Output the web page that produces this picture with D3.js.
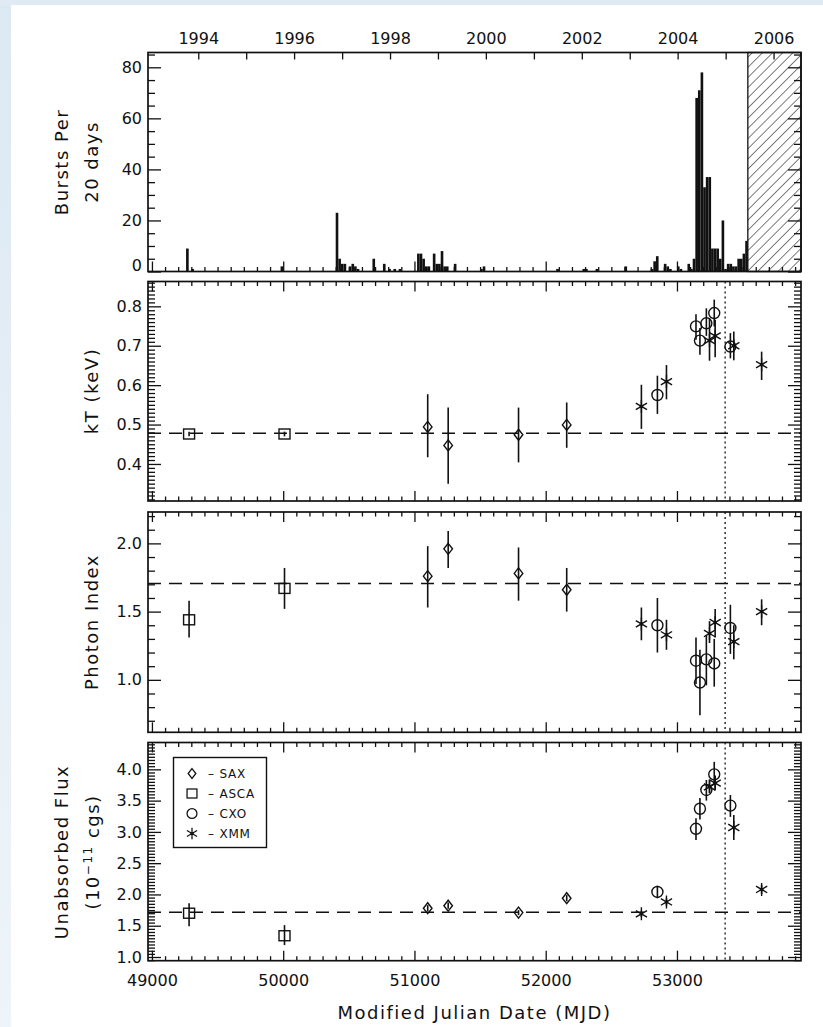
<!DOCTYPE html>
<html>
<head>
<meta charset="utf-8">
<script src="https://cdn.jsdelivr.net/npm/d3@7"></script>
<style>
  html, body { margin: 0; padding: 0; background: #ffffff; }
  svg { display: block; }
  text { font-family: "DejaVu Sans", sans-serif; fill: #111; }
</style>
</head>
<body>
<svg id="chart" width="823" height="1027"></svg>
<script>
// ---- Burst history: 20-day bins (bin start, MJD) and bursts per bin ----
const burstBinStart = [49260, 49300, 49980,
  50400, 50420, 50440, 50460, 50500, 50520, 50540, 50560,
  50680, 50760, 50800, 50840, 50880,
  51020, 51040, 51060, 51080, 51100, 51140, 51160, 51180, 51200, 51220, 51240, 51300,
  51500, 51520, 52080, 52280, 52300, 52380, 52600,
  52800, 52820, 52840, 52900, 52920, 52940, 53000, 53020, 53080, 53100, 53120,
  53140, 53160, 53180, 53200, 53220, 53240, 53260, 53280, 53300, 53320, 53340,
  53360, 53380, 53400, 53420, 53440, 53460, 53480, 53500, 53520];
const burstCounts = [9, 1, 2,
  23, 5, 3, 3, 2, 3, 2, 1,
  5, 3, 1, 1, 1,
  7, 7, 5, 2, 2, 7, 3, 3, 8, 2, 2, 3,
  1, 2, 1, 1, 1, 1, 2,
  1, 4, 6, 3, 2, 1, 2, 1, 3, 1, 5,
  68, 71, 78, 33, 37, 37, 9, 9, 9, 5, 20,
  1, 3, 3, 2, 2, 5, 5, 7, 12];
const binDays = 20;
const unobservedFromMJD = 53540;   // hatched: no burst monitoring yet
const flareMJD = 53367;            // dotted line

// ---- Calendar ticks on the top axis ----
const yearTicks = [1994, 1995, 1996, 1997, 1998, 1999, 2000, 2001, 2002, 2003, 2004, 2005, 2006];
const yearLabels = [1994, 1996, 1998, 2000, 2002, 2004, 2006];

// ---- Spectral fits: [MJD], and [value, lower, upper] ----
const ascaMJD = [49283, 50010];
const ascaKT = [[0.476, 0.470, 0.482], [0.476, 0.470, 0.482]];
const ascaGamma = [[1.44, 1.31, 1.58], [1.67, 1.52, 1.82]];
const ascaFlux = [[1.70, 1.49, 1.86], [1.34, 1.19, 1.51]];

const saxMJD = [51101, 51257, 51793, 52160];
const saxKT = [[0.494, 0.417, 0.577], [0.447, 0.350, 0.543], [0.474, 0.404, 0.543], [0.499, 0.441, 0.556]];
const saxGamma = [[1.76, 1.53, 1.98], [1.96, 1.82, 2.09], [1.78, 1.58, 1.97], [1.66, 1.50, 1.82]];
const saxFlux = [[1.78, 1.73, 1.83], [1.82, 1.77, 1.87], [1.71, 1.67, 1.75], [1.94, 1.89, 1.99]];

const cxoMJD = [52851, 53145, 53175, 53224, 53284, 53407];
const cxoKT = [[0.575, 0.527, 0.624], [0.749, 0.715, 0.780], [0.713, 0.677, 0.745], [0.757, 0.725, 0.795], [0.783, 0.749, 0.817], [0.698, 0.668, 0.732]];
const cxoGamma = [[1.40, 1.20, 1.60], [1.14, 0.97, 1.31], [0.98, 0.74, 1.22], [1.15, 0.96, 1.33], [1.12, 0.95, 1.30], [1.38, 1.19, 1.55]];
const cxoFlux = [[2.04, 1.94, 2.14], [3.05, 2.87, 3.22], [3.37, 3.20, 3.54], [3.67, 3.50, 3.83], [3.92, 3.75, 4.12], [3.42, 3.24, 3.59]];

const xmmMJD = [52729, 52920, 53248, 53291, 53433, 53645];
const xmmKT = [[0.546, 0.489, 0.601], [0.609, 0.564, 0.651], [0.713, 0.662, 0.770], [0.725, 0.671, 0.766], [0.700, 0.663, 0.736], [0.652, 0.613, 0.685]];
const xmmGamma = [[1.41, 1.29, 1.53], [1.33, 1.22, 1.44], [1.34, 1.27, 1.43], [1.42, 1.31, 1.52], [1.28, 1.15, 1.40], [1.50, 1.40, 1.59]];
const xmmFlux = [[1.69, 1.64, 1.74], [1.88, 1.82, 1.94], [3.72, 3.62, 3.84], [3.78, 3.66, 3.90], [3.07, 2.87, 3.27], [2.08, 2.01, 2.15]];

// Quiescent reference levels (dashed)
const refKT = 0.478, refGamma = 1.706, refFlux = 1.715;

// ---- Layout ----
const W = 823, H = 1027;
const L = 148, R = 801;
const svg = d3.select("#chart");

// page backdrop
const defs = svg.append("defs");
const grad = defs.append("linearGradient").attr("id", "edge").attr("x1", 0).attr("y1", 0).attr("x2", 0).attr("y2", 1);
grad.append("stop").attr("offset", 0).attr("stop-color", "#dce9f3");
grad.append("stop").attr("offset", 1).attr("stop-color", "#eef4f9");
svg.append("rect").attr("width", W).attr("height", H).attr("fill", "#ffffff");
svg.append("rect").attr("width", 11).attr("height", H).attr("fill", "url(#edge)");
svg.append("rect").attr("width", W).attr("height", 5).attr("fill", "#dfeaf4");

const hatch = defs.append("pattern").attr("id", "hatch")
  .attr("patternUnits", "userSpaceOnUse").attr("width", 7.2).attr("height", 7.2)
  .attr("patternTransform", "rotate(45)");
hatch.append("line").attr("x1", 0).attr("y1", 0).attr("x2", 0).attr("y2", 7.2)
  .attr("stroke", "#111").attr("stroke-width", 1.1);

const x = d3.scaleLinear().domain([48970, 53945]).range([L, R]);
const mjdMajor = [49000, 50000, 51000, 52000, 53000];
const mjdMinor = d3.range(49000, 53950, 100).filter(v => v % 1000 !== 0);
const mjdOfYear = yr => 40587 + Date.UTC(yr, 0, 1) / 86400000;

const panels = [
  { top: 52.5, bottom: 271.5, domain: [0, 85.8], major: [0, 20, 40, 60, 80], minorStep: 5, fmt: d3.format("d") },
  { top: 281.5, bottom: 501, domain: [0.306, 0.863], major: [0.4, 0.5, 0.6, 0.7, 0.8], minorStep: 0.01, fmt: d3.format(".1f") },
  { top: 512, bottom: 732.3, domain: [0.6155, 2.23], major: [1.0, 1.5, 2.0], minorStep: 0.1, fmt: d3.format(".1f") },
  { top: 742.5, bottom: 960.7, domain: [0.941, 4.429], major: [1.0, 1.5, 2.0, 2.5, 3.0, 3.5, 4.0], minorStep: 0.05, fmt: d3.format(".1f") }
];
panels.forEach(p => {
  p.y = d3.scaleLinear().domain(p.domain).range([p.bottom, p.top]);
  const lo = Math.ceil(p.domain[0] / p.minorStep - 1e-6), hi = Math.floor(p.domain[1] / p.minorStep + 1e-6);
  p.minor = d3.range(lo, hi + 1).map(k => +(k * p.minorStep).toFixed(4))
    .filter(v => !p.major.some(m => Math.abs(m - v) < 1e-6));
});

function styleAxis(g) {
  g.select(".domain").remove();
  g.selectAll(".tick line").attr("stroke", "#111").attr("stroke-width", 1.3);
  g.selectAll(".tick text").attr("font-size", 16).attr("fill", "#111");
}

function drawFrame(p, idx) {
  const g = svg.append("g");
  // left / right
  g.append("g").attr("transform", `translate(${L},0)`)
    .call(d3.axisLeft(p.y).tickValues(p.major).tickSize(-13).tickPadding(6).tickFormat(p.fmt)).call(styleAxis);
  g.append("g").attr("transform", `translate(${L},0)`)
    .call(d3.axisLeft(p.y).tickValues(p.minor).tickSize(-7).tickFormat("")).call(styleAxis);
  g.append("g").attr("transform", `translate(${R},0)`)
    .call(d3.axisRight(p.y).tickValues(p.major).tickSize(-13).tickFormat("")).call(styleAxis);
  g.append("g").attr("transform", `translate(${R},0)`)
    .call(d3.axisRight(p.y).tickValues(p.minor).tickSize(-7).tickFormat("")).call(styleAxis);
  // top
  if (idx === 0) {
    const yt = g.append("g").attr("transform", `translate(0,${p.top})`)
      .call(d3.axisTop(x).tickValues(yearTicks.map(mjdOfYear)).tickSize(-7).tickPadding(9)
        .tickFormat((d, i) => yearLabels.includes(yearTicks[i]) ? String(yearTicks[i]) : ""));
    styleAxis(yt);
  } else {
    g.append("g").attr("transform", `translate(0,${p.top})`)
      .call(d3.axisTop(x).tickValues(mjdMajor).tickSize(-10).tickFormat("")).call(styleAxis);
    g.append("g").attr("transform", `translate(0,${p.top})`)
      .call(d3.axisTop(x).tickValues(mjdMinor).tickSize(-4.5).tickFormat("")).call(styleAxis);
  }
  // bottom
  const last = idx === panels.length - 1;
  g.append("g").attr("transform", `translate(0,${p.bottom})`)
    .call(d3.axisBottom(x).tickValues(mjdMajor).tickSize(-10).tickPadding(14)
      .tickFormat(last ? d3.format("d") : "")).call(styleAxis);
  g.append("g").attr("transform", `translate(0,${p.bottom})`)
    .call(d3.axisBottom(x).tickValues(mjdMinor).tickSize(-4.5).tickFormat("")).call(styleAxis);
  g.append("rect").attr("x", L).attr("y", p.top).attr("width", R - L).attr("height", p.bottom - p.top)
    .attr("fill", "none").attr("stroke", "#111").attr("stroke-width", 1.7);
  return g;
}

// ---- Panel 1: burst histogram ----
const p1 = panels[0];
svg.append("g").selectAll("rect").data(burstBinStart).join("rect")
  .attr("x", d => x(d)).attr("width", d => x(d + binDays) - x(d))
  .attr("y", (d, i) => p1.y(burstCounts[i]))
  .attr("height", (d, i) => p1.y(0) - p1.y(burstCounts[i]))
  .attr("fill", "#111");
svg.append("rect").attr("x", x(unobservedFromMJD)).attr("y", p1.top)
  .attr("width", R - x(unobservedFromMJD)).attr("height", p1.bottom - p1.top)
  .attr("fill", "url(#hatch)").attr("stroke", "#111").attr("stroke-width", 1.3);

panels.forEach((p, i) => drawFrame(p, i));

// ---- Markers ----
function marker(g, type, cx, cy) {
  const s = g.append("g").attr("transform", `translate(${cx},${cy})`)
    .attr("fill", "none").attr("stroke", "#111").attr("stroke-width", 1.4);
  if (type === "sax") s.append("path").attr("d", "M0,-5.5L4.3,0L0,5.5L-4.3,0Z");
  else if (type === "asca") s.append("rect").attr("x", -5.5).attr("y", -5).attr("width", 11).attr("height", 10);
  else if (type === "cxo") s.append("circle").attr("r", 5.5);
  else {
    s.append("path").attr("d", "M0,-6.5V6.5M-5.6,-3.3L5.6,3.3M-5.6,3.3L5.6,-3.3");
    s.append("circle").attr("r", 1.8).attr("fill", "#111").attr("stroke", "none");
  }
}

const sets = [
  { type: "asca", mjd: ascaMJD, vals: [ascaKT, ascaGamma, ascaFlux] },
  { type: "sax", mjd: saxMJD, vals: [saxKT, saxGamma, saxFlux] },
  { type: "cxo", mjd: cxoMJD, vals: [cxoKT, cxoGamma, cxoFlux] },
  { type: "xmm", mjd: xmmMJD, vals: [xmmKT, xmmGamma, xmmFlux] }
];
const refs = [refKT, refGamma, refFlux];

[1, 2, 3].forEach(k => {
  const p = panels[k];
  const g = svg.append("g");
  g.append("line").attr("x1", L).attr("x2", R).attr("y1", p.y(refs[k - 1])).attr("y2", p.y(refs[k - 1]))
    .attr("stroke", "#111").attr("stroke-width", 1.6).attr("stroke-dasharray", "13,8");
  g.append("line").attr("x1", x(flareMJD)).attr("x2", x(flareMJD)).attr("y1", p.top).attr("y2", p.bottom)
    .attr("stroke", "#111").attr("stroke-width", 1.3).attr("stroke-dasharray", "2,3");
  sets.forEach(s => {
    s.vals[k - 1].forEach((v, i) => {
      const cx = x(s.mjd[i]);
      g.append("line").attr("x1", cx).attr("x2", cx).attr("y1", p.y(v[1])).attr("y2", p.y(v[2]))
        .attr("stroke", "#111").attr("stroke-width", 1.6);
      marker(g, s.type, cx, p.y(v[0]));
    });
  });
});

// zero label of the burst panel sits slightly above its tick
svg.selectAll(".tick text").filter(function () { return this.textContent === "0"; }).attr("dy", "-0.05em");

// ---- Legend ----
const legendNames = ["SAX", "ASCA", "CXO", "XMM"];
const legendTypes = ["sax", "asca", "cxo", "xmm"];
const lg = svg.append("g");
lg.append("rect").attr("x", 173.5).attr("y", 757.5).attr("width", 93).attr("height", 90)
  .attr("fill", "#fff").attr("stroke", "#111").attr("stroke-width", 1.4);
legendNames.forEach((n, i) => {
  const cy = 773.5 + i * 20;
  const m = lg.append("g").attr("transform", `translate(192,${cy}) scale(0.9)`);
  marker(m, legendTypes[i], 0, 0);
  lg.append("text").attr("x", 208).attr("y", cy).attr("dy", "0.36em").attr("font-size", 12)
    .attr("letter-spacing", "0.8px").text("\u2013 " + n);
});

// ---- Axis titles ----
function vtitle(cx, cy, parts) {
  const t = svg.append("text").attr("transform", `translate(${cx},${cy}) rotate(-90)`)
    .attr("text-anchor", "middle").attr("dy", "0.36em").attr("font-size", 18)
    .attr("letter-spacing", "1.5px");
  parts.forEach(p => {
    const s = t.append("tspan").text(p.t);
    if (p.sup) s.attr("font-size", 12).attr("dy", "-0.6em");
    if (p.after) s.attr("dy", "0.4em");
  });
}
vtitle(62, 162, [{ t: "Bursts Per" }]);
vtitle(92, 162, [{ t: "20 days" }]);
vtitle(92, 391, [{ t: "kT (keV)" }]);
vtitle(92, 622, [{ t: "Photon Index" }]);
vtitle(62, 852, [{ t: "Unabsorbed Flux" }]);
vtitle(93, 852, [{ t: "(10" }, { t: "\u221211", sup: true }, { t: " cgs)", after: true }]);

svg.append("text").attr("x", (L + R) / 2).attr("y", 1013).attr("dy", "0.36em")
  .attr("text-anchor", "middle").attr("font-size", 18).attr("letter-spacing", "1.5px")
  .text("Modified Julian Date (MJD)");
</script>
</body>
</html>
